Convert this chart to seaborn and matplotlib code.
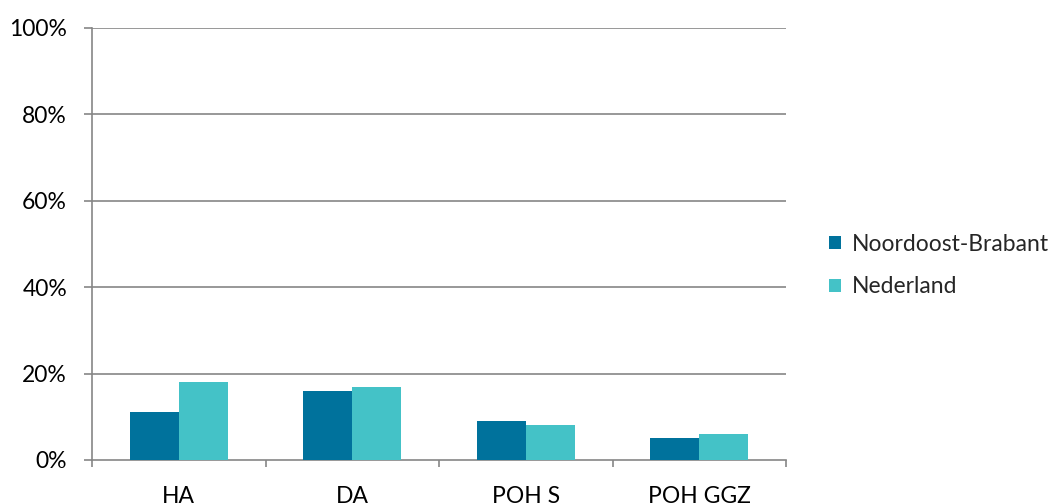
import matplotlib
matplotlib.use("Agg")
import matplotlib.pyplot as plt
import seaborn as sns
import pandas as pd
import numpy as np
from matplotlib.ticker import FixedLocator, PercentFormatter

categories = ["HA", "DA", "POH S", "POH GGZ"]
noordoost_brabant = [11, 16, 9, 5]
nederland = [18, 17, 8, 6]
series_names = ["Noordoost-Brabant", "Nederland"]
colors = ["#00729C", "#44C2C7"]
y_ticks = [0, 20, 40, 60, 80, 100]

df = pd.DataFrame({
    "cat": categories * 2,
    "val": noordoost_brabant + nederland,
    "series": [series_names[0]] * 4 + [series_names[1]] * 4,
})

sns.set_style("white")
plt.rcParams["font.family"] = ["Lato", "DejaVu Sans"]

fs = 16.5
fig = plt.figure(figsize=(10.63, 5.03), dpi=100)
ax = fig.add_axes([92 / 1063, 43 / 503, 694 / 1063, 432 / 503])

sns.barplot(data=df, x="cat", y="val", hue="series", palette=colors,
            width=0.565, gap=0, saturation=1, ax=ax, zorder=3,
            edgecolor="none", linewidth=0)

grid_col = "#868686"
ax.set_ylim(0, 100)
ax.set_xlim(-0.5, 3.5)
ax.yaxis.set_major_locator(FixedLocator(y_ticks))
ax.yaxis.set_major_formatter(PercentFormatter(decimals=0))
for y in y_ticks[1:]:
    ax.axhline(y, color=grid_col, lw=1.2, zorder=1)

ax.set_xlabel("")
ax.set_ylabel("")
for s in ["top", "right"]:
    ax.spines[s].set_visible(False)
for s in ["left", "bottom"]:
    ax.spines[s].set_color(grid_col)
    ax.spines[s].set_linewidth(1.2)

ax.tick_params(axis="y", length=6, width=1.2, color=grid_col, labelsize=fs,
               pad=12, labelcolor="black", left=True)
ax.tick_params(axis="x", which="major", length=0, labelsize=fs, pad=19,
               labelcolor="black")
ax.xaxis.set_minor_locator(FixedLocator([-0.5, 0.5, 1.5, 2.5, 3.5]))
ax.tick_params(axis="x", which="minor", length=5, width=1.2, color=grid_col,
               bottom=True)

leg = ax.legend(loc="center left", bbox_to_anchor=(1.032, 0.45), frameon=False,
                fontsize=fs, handlelength=0.52, handleheight=0.52,
                handletextpad=0.47, labelspacing=0.95)

fig.savefig("out.png", dpi=100)
